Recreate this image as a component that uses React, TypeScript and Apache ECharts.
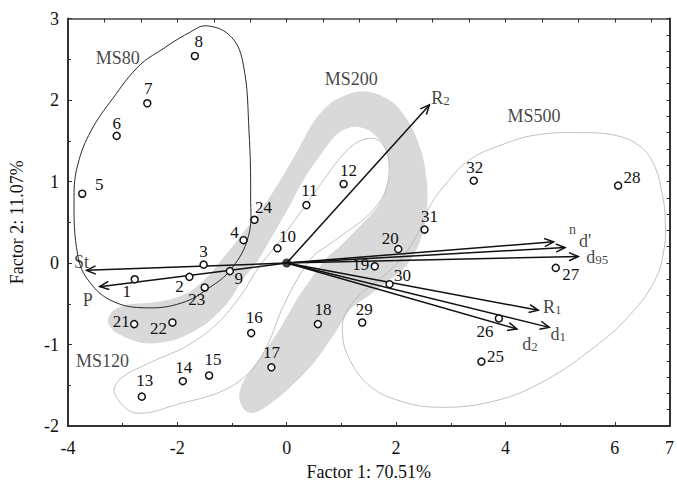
import React, { useEffect, useRef } from "react";
import * as echarts from "echarts";

// ---- data (Factor 1, Factor 2 scores) ----
const pointIds = [
  "1","2","3","4","5","6","7","8","9","10","11","12","13","14","15","16",
  "17","18","19","20","21","22","23","24","25","26","27","28","29","30","31","32",
];
const f1 = [
  -2.78,-1.78,-1.52,-0.79,-3.74,-3.11,-2.55,-1.68,-1.04,-0.17,0.36,1.04,-2.65,-1.90,-1.42,-0.65,
  -0.28,0.57,1.61,2.04,-2.79,-2.09,-1.50,-0.59,3.56,3.88,4.92,6.06,1.38,1.88,2.52,3.42,
];
const f2 = [
  -0.20,-0.17,-0.02,0.28,0.85,1.56,1.96,2.54,-0.10,0.18,0.71,0.97,-1.64,-1.45,-1.38,-0.86,
  -1.28,-0.75,-0.04,0.17,-0.75,-0.73,-0.30,0.53,-1.21,-0.68,-0.06,0.95,-0.73,-0.26,0.41,1.01,
];

// variable vectors
const vecNames = ["R2","St","P","n","d'","d95","R1","d1","d2"];
const vecX = [2.61,-3.66,-3.42,4.88,5.09,5.33,4.60,4.80,4.21];
const vecY = [1.94,-0.09,-0.29,0.26,0.19,0.08,-0.58,-0.79,-0.81];

// group outlines (data coordinates)
const ms80Outline = [
  [-1.46,2.91],[-1.01,2.77],[-0.79,2.42],[-0.69,1.62],[-0.66,0.81],[-0.70,0.33],
  [-1.01,-0.07],[-1.43,-0.31],[-1.92,-0.49],[-2.58,-0.55],[-3.18,-0.47],[-3.61,-0.23],
  [-3.82,0.09],[-3.89,0.81],[-3.82,1.21],[-3.58,1.62],[-3.18,2.02],[-2.70,2.42],
  [-2.28,2.62],[-1.80,2.82],
];
const ms120Outline = [
  [-3.15,-1.60],[-3.04,-1.42],[-2.46,-1.21],[-1.83,-1.02],[-1.28,-0.75],[-0.83,-0.39],
  [-0.51,-0.05],[-0.20,0.21],[0.26,0.63],[0.71,1.05],[1.07,1.36],[1.38,1.51],
  [1.67,1.51],[1.85,1.32],[1.85,0.99],[1.70,0.75],[1.43,0.55],[1.07,0.37],
  [0.74,0.21],[0.49,0.09],[0.20,-0.19],[-0.11,-0.60],[-0.34,-0.99],[-0.65,-1.32],
  [-1.14,-1.56],[-1.92,-1.72],[-2.77,-1.84],
];
const ms500Outline = [
  [2.43,0.41],[2.16,0.11],[1.79,-0.15],[1.34,-0.39],[1.07,-0.63],[1.02,-0.87],
  [1.12,-1.14],[1.47,-1.48],[2.01,-1.68],[2.79,-1.77],[3.82,-1.69],[4.73,-1.44],
  [5.63,-1.03],[6.23,-0.67],[6.72,-0.23],[6.90,0.17],[6.92,0.57],[6.86,0.87],
  [6.74,1.17],[6.50,1.41],[6.05,1.56],[5.33,1.60],[4.55,1.57],[3.93,1.45],
  [3.33,1.26],[2.91,0.97],[2.61,0.69],
];
const grayBand = [
  [-3.27,-0.72],[-3.18,-0.59],[-2.91,-0.51],[-2.55,-0.49],[-2.15,-0.45],[-1.79,-0.36],
  [-1.43,-0.16],[-1.19,0.04],[-0.96,0.23],[-0.74,0.42],[-0.52,0.60],[-0.16,0.97],
  [0.20,1.38],[0.49,1.73],[0.80,1.96],[1.21,2.09],[1.58,2.09],[1.94,1.97],
  [2.25,1.71],[2.48,1.33],[2.57,0.93],[2.55,0.57],[2.43,0.25],[2.19,-0.03],
  [1.88,-0.21],[1.52,-0.39],[1.16,-0.57],[0.89,-0.85],[0.49,-1.23],[0.07,-1.52],
  [-0.29,-1.72],[-0.60,-1.84],[-0.78,-1.80],[-0.87,-1.63],[-0.78,-1.44],[-0.47,-1.15],
  [-0.11,-0.79],[0.20,-0.43],[0.49,-0.15],[0.74,0.07],[0.98,0.21],[1.29,0.42],
  [1.70,0.73],[1.88,1.09],[1.79,1.42],[1.52,1.62],[1.21,1.67],[0.92,1.58],
  [0.62,1.33],[0.31,1.02],[0.02,0.66],[-0.29,0.30],[-0.52,0.04],[-0.83,-0.23],
  [-1.07,-0.48],[-1.43,-0.72],[-1.79,-0.87],[-2.15,-0.96],[-2.64,-0.98],[-3.13,-0.85],
];
const groupLabels = ["MS80","MS120","MS200","MS500"];
const groupLabelX = [-3.09,-3.37,1.18,4.52];
const groupLabelY = [2.52,-1.20,2.26,1.80];

// ---- styling / placement (pixels) ----
const pointLabelOffsets: number[][] = [
  [-8,12],[-10,10],[0,-13],[-9,-8],[17,-9],[0,-12],[1,-15],[4,-14],[9,7],[10,-12],
  [3,-15],[5,-13],[3,-16],[1,-14],[4,-16],[3,-16],[0,-15],[5,-15],[-14,-2],[-8,-11],
  [-13,-3],[-14,6],[-8,12],[9,-12],[14,-5],[-14,13],[15,7],[14,-8],[2,-13],[13,-9],
  [5,-13],[1,-13],
];
const vecLabelOffsets: Record<string, number[]> = {
  R2: [11, -9], St: [-5, -10], P: [-12, 11], n: [19, -16], "d'": [20, -9],
  d95: [19, -1], R1: [14, -5], d1: [9, 5], d2: [13, 13],
};

const FONT = "'Liberation Serif', 'Times New Roman', serif";
const TXT = "#111111";

function outlineSeries(pts: number[][], stroke: string, fill: string, width: number, smooth: number, z: number) {
  return {
    type: "custom",
    coordinateSystem: "cartesian2d",
    silent: true,
    z,
    data: [0],
    renderItem: (_params: any, api: any) => {
      const points = pts.map((p) => api.coord(p));
      return {
        type: "polygon",
        shape: { points, smooth },
        style: { fill, stroke, lineWidth: width },
      };
    },
  };
}

export default function App() {
  const ref = useRef<HTMLDivElement>(null);
  useEffect(() => {
    if (!ref.current) return;
    const chart = echarts.init(ref.current, null, { renderer: "svg" });

    const pointData = pointIds.map((id, i) => ({
      value: [f1[i], f2[i]],
      label: {
        show: true, formatter: id, position: "inside", offset: pointLabelOffsets[i],
        fontFamily: FONT, fontSize: 17, color: TXT,
      },
    }));

    const vecData = vecNames.map((n, i) => [vecX[i], vecY[i], n]);

    const rich = {
      m: { fontFamily: FONT, fontSize: 18, color: TXT, lineHeight: 22, verticalAlign: "bottom" },
      s: { fontFamily: FONT, fontSize: 13, color: TXT, lineHeight: 13, verticalAlign: "bottom" },
      sm: { fontFamily: FONT, fontSize: 14, color: TXT, lineHeight: 22, verticalAlign: "bottom" },
    };

    const option: any = {
      animation: false,
      backgroundColor: "#ffffff",
      textStyle: { fontFamily: FONT },
      grid: { left: 65, top: 18.5, width: 607, height: 415, containLabel: false },
      xAxis: [
        {
          type: "value", min: -4, max: 7, interval: 2, position: "bottom",
          name: "Factor 1: 70.51%", nameLocation: "middle", nameGap: 37,
          nameTextStyle: { fontFamily: FONT, fontSize: 18, color: TXT },
          axisLine: { show: true, onZero: false, lineStyle: { color: "#333", width: 2 } },
          axisTick: { show: true, inside: true, length: 4, lineStyle: { color: "#333" } },
          minorTick: { show: true, splitNumber: 2, length: 3, lineStyle: { color: "#333" } },
          axisLabel: { fontFamily: FONT, fontSize: 18, color: TXT, margin: 13 },
          splitLine: { show: false },
        },
        {
          type: "value", min: -6, max: 10.5, interval: 1, position: "top",
          axisLine: { show: true, onZero: false, lineStyle: { color: "#444", width: 1.5 } },
          axisTick: { show: true, inside: true, length: 4, lineStyle: { color: "#333" } },
          axisLabel: { show: false }, splitLine: { show: false },
        },
      ],
      yAxis: [
        {
          type: "value", min: -2, max: 3, interval: 1, position: "left",
          name: "Factor 2: 11.07%", nameLocation: "middle", nameGap: 42, nameRotate: 90,
          nameTextStyle: { fontFamily: FONT, fontSize: 18, color: TXT },
          axisLine: { show: true, onZero: false, lineStyle: { color: "#333", width: 2 } },
          axisTick: { show: true, inside: true, length: 4, lineStyle: { color: "#333" } },
          minorTick: { show: true, splitNumber: 2, length: 3, lineStyle: { color: "#333" } },
          axisLabel: { fontFamily: FONT, fontSize: 18, color: TXT, margin: 9 },
          splitLine: { show: false },
        },
        {
          type: "value", min: -10, max: 15, interval: 1, position: "right",
          axisLine: { show: true, onZero: false, lineStyle: { color: "#333", width: 2 } },
          axisTick: { show: true, inside: true, length: 3, lineStyle: { color: "#333" } },
          axisLabel: { show: false }, splitLine: { show: false },
        },
      ],
      series: [
        outlineSeries(grayBand, "none", "#d9d9d9", 0, 0.3, 1),
        outlineSeries(ms120Outline, "#b0b0b0", "none", 0.8, 0.35, 2),
        outlineSeries(ms500Outline, "#b0b0b0", "none", 0.8, 0.4, 2),
        outlineSeries(ms80Outline, "#2a2a2a", "none", 1, 0.4, 2),
        {
          type: "scatter",
          z: 3,
          symbol: "circle",
          symbolSize: 1,
          itemStyle: { color: "rgba(0,0,0,0)" },
          silent: true,
          data: groupLabels.map((g, i) => ({
            value: [groupLabelX[i], groupLabelY[i]],
            label: { show: true, formatter: g, position: "inside", fontFamily: FONT, fontSize: 18, color: TXT },
          })),
        },
        {
          type: "custom",
          coordinateSystem: "cartesian2d",
          silent: true,
          z: 4,
          data: vecData,
          renderItem: (_params: any, api: any) => {
            const o = api.coord([0, 0]);
            const t = api.coord([api.value(0), api.value(1)]);
            const ang = Math.atan2(t[1] - o[1], t[0] - o[0]);
            const L = 10, W = 0.42;
            const a1 = [t[0] - L * Math.cos(ang - W), t[1] - L * Math.sin(ang - W)];
            const a2 = [t[0] - L * Math.cos(ang + W), t[1] - L * Math.sin(ang + W)];
            return {
              type: "group",
              children: [
                { type: "line", shape: { x1: o[0], y1: o[1], x2: t[0], y2: t[1] }, style: { stroke: "#111", lineWidth: 1.5 } },
                { type: "polyline", shape: { points: [a1, t, a2] }, style: { stroke: "#111", lineWidth: 1.5, fill: "none" } },
              ],
            };
          },
        },
        {
          type: "scatter",
          z: 5,
          symbol: "circle",
          symbolSize: 1,
          itemStyle: { color: "rgba(0,0,0,0)" },
          silent: true,
          data: vecData.map((d) => {
            const name = d[2] as string;
            let fmt = "{m|" + name + "}";
            if (name === "R2") fmt = "{m|R}{s|2}";
            else if (name === "R1") fmt = "{m|R}{s|1}";
            else if (name === "d1") fmt = "{m|d}{s|1}";
            else if (name === "d2") fmt = "{m|d}{s|2}";
            else if (name === "d95") fmt = "{m|d}{s|95}";
            else if (name === "n") fmt = "{sm|n}";
            return {
              value: [d[0], d[1]],
              label: { show: true, formatter: fmt, position: "inside", offset: vecLabelOffsets[name], rich },
            };
          }),
        },
        {
          type: "scatter",
          z: 6,
          symbol: "circle",
          symbolSize: 7,
          itemStyle: { color: "#ffffff", borderColor: "#111", borderWidth: 1.5, opacity: 1 },
          data: pointData,
        },
        {
          type: "scatter",
          z: 7,
          symbol: "circle",
          symbolSize: 9,
          itemStyle: { color: "#111" },
          data: [[0, 0]],
        },
      ],
    };
    chart.setOption(option);
    return () => chart.dispose();
  }, []);
  return <div ref={ref} style={{ width: 677, height: 486, position: "absolute", left: 0, top: 0 }} />;
}
